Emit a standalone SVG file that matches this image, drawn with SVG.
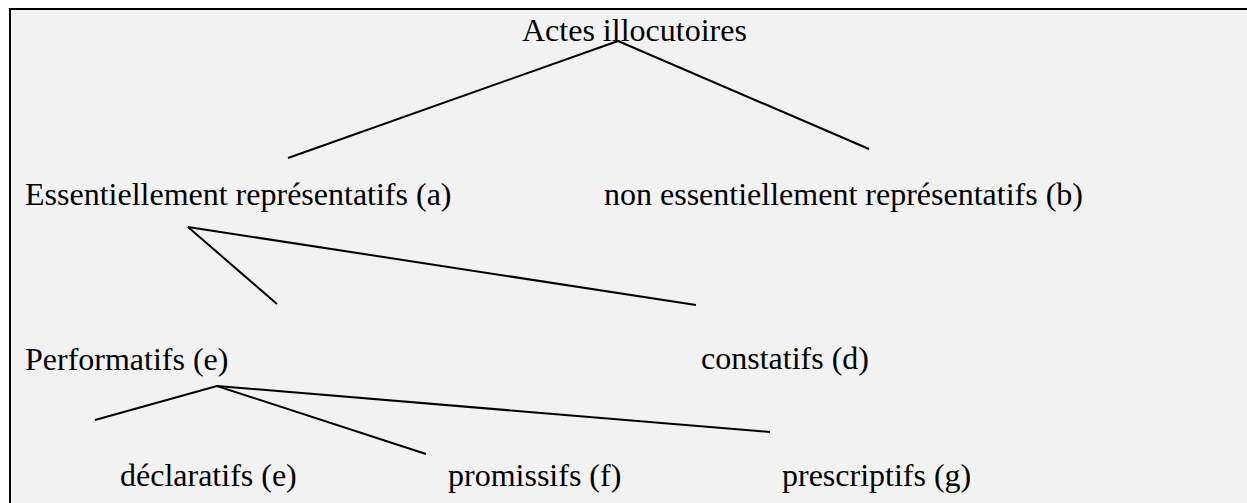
<svg xmlns="http://www.w3.org/2000/svg" width="1247" height="503" viewBox="0 0 1247 503">
<style>
.t{font-family:"Liberation Serif","Times New Roman",serif;font-size:32px;fill:#000}
.c line{stroke:#000;stroke-width:2;fill:none}
</style>
<rect x="0" y="0" width="1247" height="503" fill="#ffffff"/>
<rect x="10" y="9" width="1260" height="520" fill="#f2f2f2" stroke="#000" stroke-width="2"/>
<g id="connectors" class="c">
<line x1="618" y1="41" x2="288" y2="158"/>
<line x1="618" y1="41" x2="869" y2="149"/>
<line x1="188" y1="227" x2="277" y2="304"/>
<line x1="188" y1="227" x2="696" y2="305"/>
<line x1="217" y1="386" x2="95" y2="420"/>
<line x1="217" y1="386" x2="426" y2="454"/>
<line x1="217" y1="386" x2="770" y2="432"/>
</g>
<g id="n-actes"><text class="t" x="522" y="41">Actes illocutoires</text></g>
<g id="n-a"><text class="t" x="25" y="205">Essentiellement représentatifs (a)</text></g>
<g id="n-b"><text class="t" x="604" y="205">non essentiellement représentatifs (b)</text></g>
<g id="n-perf"><text class="t" x="25" y="370">Performatifs (e)</text></g>
<g id="n-d"><text class="t" x="701" y="369">constatifs (d)</text></g>
<g id="n-decl"><text class="t" x="120" y="486">déclaratifs (e)</text></g>
<g id="n-f"><text class="t" x="448" y="486">promissifs (f)</text></g>
<g id="n-g"><text class="t" x="782" y="486">prescriptifs (g)</text></g>
</svg>
